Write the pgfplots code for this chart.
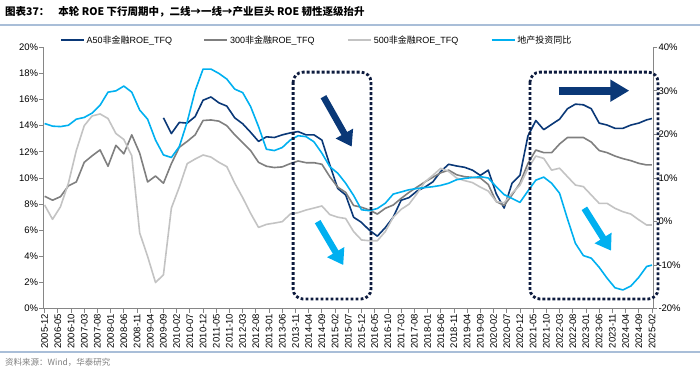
\documentclass[border=0pt]{standalone}
\usepackage{fontspec}
\setmainfont{Liberation Sans}
\newfontfamily\cjk{Noto Sans CJK SC}
\usepackage{pgfplots}
\pgfplotsset{compat=1.18}
\usetikzlibrary{arrows.meta}
\definecolor{navy}{HTML}{0A3877}
\definecolor{dgray}{HTML}{7F7F7F}
\definecolor{lgray}{HTML}{C3C3C3}
\definecolor{sky}{HTML}{00B0F0}
\definecolor{boxc}{HTML}{0D1B3E}
\definecolor{rulec}{HTML}{A9BED8}
\definecolor{axc}{HTML}{868686}
\definecolor{srcc}{HTML}{7F7F7F}
\begin{document}
\begin{tikzpicture}
\useasboundingbox (0pt,0pt) rectangle (700pt,371pt);
\node[anchor=west, inner sep=0pt] at (5pt,359pt) {\fontsize{10.5}{12}\selectfont\bfseries\cjk 图表37：\hspace{9pt}本轮 ROE 下行周期中，二线→一线→产业巨头 ROE 韧性逐级抬升};
\draw[rulec, line width=1.2pt] (0pt,346pt) -- (700pt,346pt);
\draw[rulec, line width=1.2pt] (0pt,19pt) -- (700pt,19pt);
\node[anchor=west, inner sep=0pt, text=srcc] at (5pt,9pt) {\fontsize{8.5}{10}\selectfont\cjk 资料来源：Wind，华泰研究};

\begin{axis}[
  at={(43.3pt,62.3pt)}, anchor=south west,
  scale only axis, width=610pt, height=261.4pt,
  xmin=-0.5, xmax=230.5, ymin=0, ymax=20,
  axis x line*=bottom, axis y line*=left,
  axis line style={draw=axc, line width=0.8pt, -},
  tick align=outside, major tick length=4pt,
  tick style={draw=axc, line width=0.8pt},
  xtick={0,5,...,230},
  xticklabels={2005-12,2006-05,2006-10,2007-03,2007-08,2008-01,2008-06,2008-11,2009-04,2009-09,2010-02,2010-07,2010-12,2011-05,2011-10,2012-03,2012-08,2013-01,2013-06,2013-11,2014-04,2014-09,2015-02,2015-07,2015-12,2016-05,2016-10,2017-03,2017-08,2018-01,2018-06,2018-11,2019-04,2019-09,2020-02,2020-07,2020-12,2021-05,2021-10,2022-03,2022-08,2023-01,2023-06,2023-11,2024-04,2024-09,2025-02},
  x tick label style={rotate=90, anchor=east, inner sep=1pt, font=\fontsize{9.5}{10}\selectfont},
  ytick={0,2,...,20},
  yticklabels={0\%,2\%,4\%,6\%,8\%,10\%,12\%,14\%,16\%,18\%,20\%},
  y tick label style={font=\fontsize{9.5}{10}\selectfont, inner sep=1pt},
  clip=false,
  legend columns=4,
  legend style={draw=none, fill=none, at={(axis description cs:0.027,1.028)}, anchor=west, inner sep=0pt,
    font=\fontsize{9}{10}\selectfont, nodes={text width=110pt, align=left, inner sep=2pt},
    /tikz/every even column/.append style={column sep=5pt}},
  legend image code/.code={\draw[#1] (0pt,0pt) -- (23pt,0pt);},
  every axis plot/.append style={line width=1.6pt, line join=round},
]
\addplot[navy] coordinates {(45,14.6)(48,13.4)(51,14.25)(54,14.2)(57,14.7)(60,15.95)(63,16.2)(66,15.75)(69,15.5)(72,14.6)(75,14.15)(78,13.5)(81,12.8)(84,13.15)(87,13.1)(90,13.3)(93,13.45)(96,13.55)(99,13.3)(102,13.3)(105,12.9)(108,11.0)(111,9.2)(114,8.7)(117,7.0)(120,6.6)(123,6.0)(126,5.55)(129,6.2)(132,7.0)(135,8.3)(138,8.5)(141,9.0)(144,9.3)(147,9.7)(150,10.5)(153,11.05)(156,10.92)(159,10.82)(162,10.6)(165,10.2)(168,10.6)(171,8.8)(174,7.7)(177,9.6)(180,10.2)(183,13.2)(186,14.4)(189,13.7)(192,14.1)(195,14.5)(198,15.3)(201,15.65)(204,15.6)(207,15.3)(210,14.2)(213,14.05)(216,13.8)(219,13.8)(222,14.05)(225,14.2)(228,14.45)(230,14.55)};
\addlegendentry{A50{\cjk 非金融}ROE\_TFQ}
\addplot[dgray] coordinates {(0,8.6)(3,8.3)(6,8.57)(9,9.4)(12,9.7)(15,11.2)(18,11.7)(21,12.15)(24,10.9)(27,12.5)(30,11.85)(33,13.3)(36,11.9)(39,9.7)(42,10.15)(45,9.6)(48,11.1)(51,12.35)(54,12.8)(57,13.3)(60,14.4)(63,14.44)(66,14.35)(69,14.0)(72,13.3)(75,12.7)(78,12.1)(81,11.2)(84,10.9)(87,10.8)(90,10.85)(93,11.1)(96,11.3)(99,11.17)(102,11.17)(105,11.05)(108,10.1)(111,9.3)(114,8.9)(117,7.9)(120,7.76)(123,7.55)(126,7.24)(129,7.68)(132,7.93)(135,8.44)(138,8.9)(141,9.3)(144,9.7)(147,10.05)(150,10.4)(153,10.6)(156,10.25)(159,10.1)(162,10.05)(165,10.0)(168,9.5)(171,8.2)(174,7.9)(177,8.7)(180,9.6)(183,11.1)(186,12.14)(189,11.94)(192,11.94)(195,12.6)(198,13.1)(201,13.1)(204,13.1)(207,12.75)(210,12.1)(213,11.94)(216,11.68)(219,11.48)(222,11.33)(225,11.12)(228,11.0)(230,11.0)};
\addlegendentry{300{\cjk 非金融}ROE\_TFQ}
\addplot[lgray] coordinates {(0,7.93)(3,6.84)(6,7.8)(9,9.6)(12,12.1)(15,14.0)(18,14.75)(21,14.9)(24,14.55)(27,13.4)(30,12.95)(33,11.7)(36,5.8)(39,4.0)(42,2.0)(45,2.6)(48,7.7)(51,9.3)(54,11.1)(57,11.45)(60,11.76)(63,11.6)(66,11.2)(69,10.87)(72,9.6)(75,8.5)(78,7.3)(81,6.22)(84,6.45)(87,6.55)(90,6.66)(93,7.24)(96,7.35)(99,7.55)(102,7.7)(105,7.86)(108,7.2)(111,7.0)(114,6.9)(117,5.9)(120,5.26)(123,5.2)(126,5.2)(129,5.9)(132,7.0)(135,7.6)(138,8.0)(141,8.8)(144,9.7)(147,10.2)(150,10.74)(153,10.5)(156,10.0)(159,9.8)(162,9.65)(165,9.3)(168,9.0)(171,8.2)(174,8.1)(177,8.83)(180,9.45)(183,10.7)(186,11.68)(189,11.5)(192,10.6)(195,10.75)(198,10.1)(201,9.46)(204,9.34)(207,8.7)(210,8.06)(213,8.06)(216,7.68)(219,7.42)(222,7.24)(225,6.8)(228,6.4)(230,6.4)};
\addlegendentry{500{\cjk 非金融}ROE\_TFQ}
\addlegendimage{sky, line width=1.6pt}
\addlegendentry{{\cjk 地产投资同比}}
\coordinate (b1a) at (axis cs:94.1,18.1);
\coordinate (b1b) at (axis cs:123.6,0.74);
\coordinate (b2a) at (axis cs:183.8,18.1);
\coordinate (b2b) at (axis cs:232.3,0.74);
\coordinate (n1a) at (axis cs:105.6,16.22);
\coordinate (n1b) at (axis cs:116.3,12.4);
\coordinate (s1a) at (axis cs:103.4,6.66);
\coordinate (s1b) at (axis cs:113.1,3.34);
\coordinate (n2a) at (axis cs:194.6,16.68);
\coordinate (n2b) at (axis cs:221.4,16.68);
\coordinate (s2a) at (axis cs:204.4,7.68);
\coordinate (s2b) at (axis cs:214.5,4.44);
\end{axis}

\begin{axis}[
  at={(43.3pt,62.3pt)}, anchor=south west,
  scale only axis, width=610pt, height=261.4pt,
  xmin=-0.5, xmax=230.5, ymin=-20, ymax=40,
  axis x line=none, axis y line*=right,
  axis line style={draw=axc, line width=0.8pt, -},
  tick align=outside, major tick length=4pt,
  tick style={draw=axc, line width=0.8pt},
  ytick={-20,-10,...,40},
  yticklabels={-20\%,-10\%,0\%,10\%,20\%,30\%,40\%},
  y tick label style={font=\fontsize{9.5}{10}\selectfont, inner sep=1pt},
  clip=false,
  every axis plot/.append style={line width=1.6pt, line join=round},
]
\addplot[sky] coordinates {(0,22.5)(3,21.9)(6,21.8)(9,22.1)(12,23.5)(15,23.9)(18,24.9)(21,26.7)(24,29.7)(27,30.0)(30,31.1)(33,29.7)(36,25.6)(39,23.5)(42,18.7)(45,15.3)(48,14.7)(51,17.2)(54,22.9)(57,30.0)(60,35.0)(63,35.0)(66,34.0)(69,32.7)(72,30.4)(75,29.6)(78,26.4)(81,21.8)(84,16.6)(87,16.3)(90,17.0)(93,18.7)(96,19.7)(99,19.5)(102,18.3)(105,15.7)(108,12.6)(111,11.1)(114,8.8)(117,6.0)(120,2.7)(123,2.5)(126,3.0)(129,4.2)(132,6.3)(135,6.8)(138,7.3)(141,7.6)(144,7.8)(147,8.0)(150,8.3)(153,8.8)(156,9.6)(159,9.9)(162,10.1)(165,10.3)(168,10.0)(171,8.0)(174,6.2)(177,5.3)(180,4.4)(183,7.0)(186,9.5)(189,10.2)(192,8.8)(195,6.5)(198,0.6)(201,-5.0)(204,-7.8)(207,-8.4)(210,-10.5)(213,-13.0)(216,-15.2)(219,-15.7)(222,-14.8)(225,-12.8)(228,-10.3)(230,-10.0)};
\end{axis}

\draw[boxc, line width=2.8pt, dash pattern=on 2.8pt off 2.2pt, rounded corners=10pt] (b1a) rectangle (b1b);
\draw[boxc, line width=2.8pt, dash pattern=on 2.8pt off 2.2pt, rounded corners=10pt] (b2a) rectangle (b2b);
\draw[navy, line width=6.5pt, -{Triangle[width=19pt,length=15pt]}] (n1a) -- (n1b);
\draw[sky, line width=6.5pt, -{Triangle[width=19pt,length=15pt]}] (s1a) -- (s1b);
\draw[navy, line width=8pt, -{Triangle[width=21pt,length=19pt]}] (n2a) -- (n2b);
\draw[sky, line width=6.5pt, -{Triangle[width=19pt,length=15pt]}] (s2a) -- (s2b);
\end{tikzpicture}
\end{document}
